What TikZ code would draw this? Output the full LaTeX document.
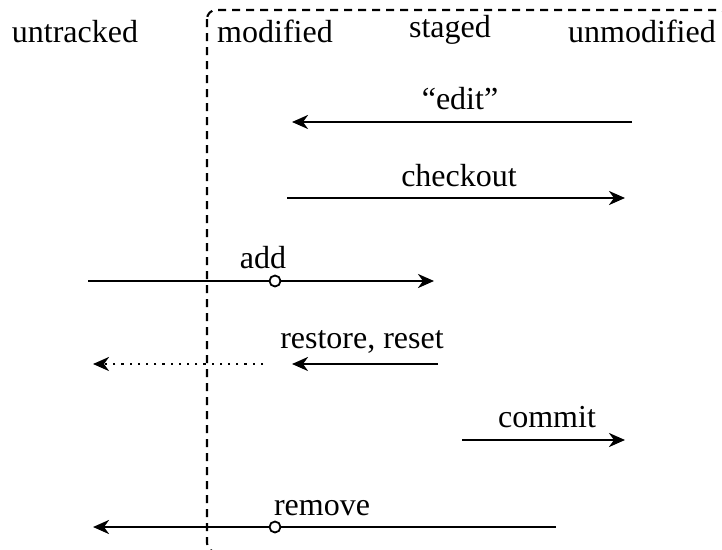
\documentclass[tikz,border=0pt]{standalone}
\usepackage{fontspec}
\setmainfont{Liberation Serif}
\usetikzlibrary{arrows.meta}
\begin{document}
\begin{tikzpicture}[x=1pt,y=-1pt,
  lbl/.style={font=\fontsize{32}{37}\selectfont, inner sep=0pt, anchor=base},
  move/.style={line width=2.6pt, -{Stealth[length=16pt,width=14pt,inset=5pt]}},
  hint/.style={move, dash pattern=on 2.2pt off 6pt},
  zone/.style={line width=2.1pt, dash pattern=on 8pt off 6pt, rounded corners=9pt},
  waypt/.style={circle, draw, fill=white, line width=1.8pt, minimum size=11pt, inner sep=0pt}]
\useasboundingbox (0,0) rectangle (722,549);

% the tracked area: everything git knows about
\begin{scope}
  \clip (0,0) rectangle (722,549);
  \draw[zone] (207,10) rectangle (728,552);
\end{scope}

% file states
\node[lbl] (untracked)  at (75,42)  {untracked};
\node[lbl] (modified)   at (275,42) {modified};
\node[lbl] (staged)     at (450,37) {staged};
\node[lbl] (unmodified) at (642,42) {unmodified};

% command labels
\node[lbl] (edit)     at (460,109) {“edit”};
\node[lbl] (checkout) at (459,186) {checkout};
\node[lbl] (add)      at (263,268) {add};
\node[lbl] (restore)  at (362,348) {restore, reset};
\node[lbl] (commit)   at (547,427) {commit};
\node[lbl] (remove)   at (322,515) {remove};

% arrow end points
\coordinate (editS) at (632,122);  \coordinate (editE) at (292,122);
\coordinate (coS)   at (287,198);  \coordinate (coE)   at (625,198);
\coordinate (addS)  at (88,281);   \coordinate (addE)  at (434,281);
\node[waypt] (addC) at (275,281) {};
\coordinate (rsS)   at (438,364);  \coordinate (rsE)   at (292,364);
\coordinate (rsdS)  at (263,364);  \coordinate (rsdE)  at (93,364);
\coordinate (cmS)   at (462,440);  \coordinate (cmE)   at (625,440);
\coordinate (rmS)   at (556,527);  \coordinate (rmE)   at (93,527);
\node[waypt] (rmC)  at (275,527) {};

% transitions
\draw[move] (editS) -- (editE);
\draw[move] (coS) -- (coE);
\draw[move] (addS) -- (addC) -- (addE);
\draw[move] (rsS) -- (rsE);
\draw[hint] (rsdS) -- (rsdE);
\draw[move] (cmS) -- (cmE);
\draw[move] (rmS) -- (rmC) -- (rmE);
\end{tikzpicture}
\end{document}
